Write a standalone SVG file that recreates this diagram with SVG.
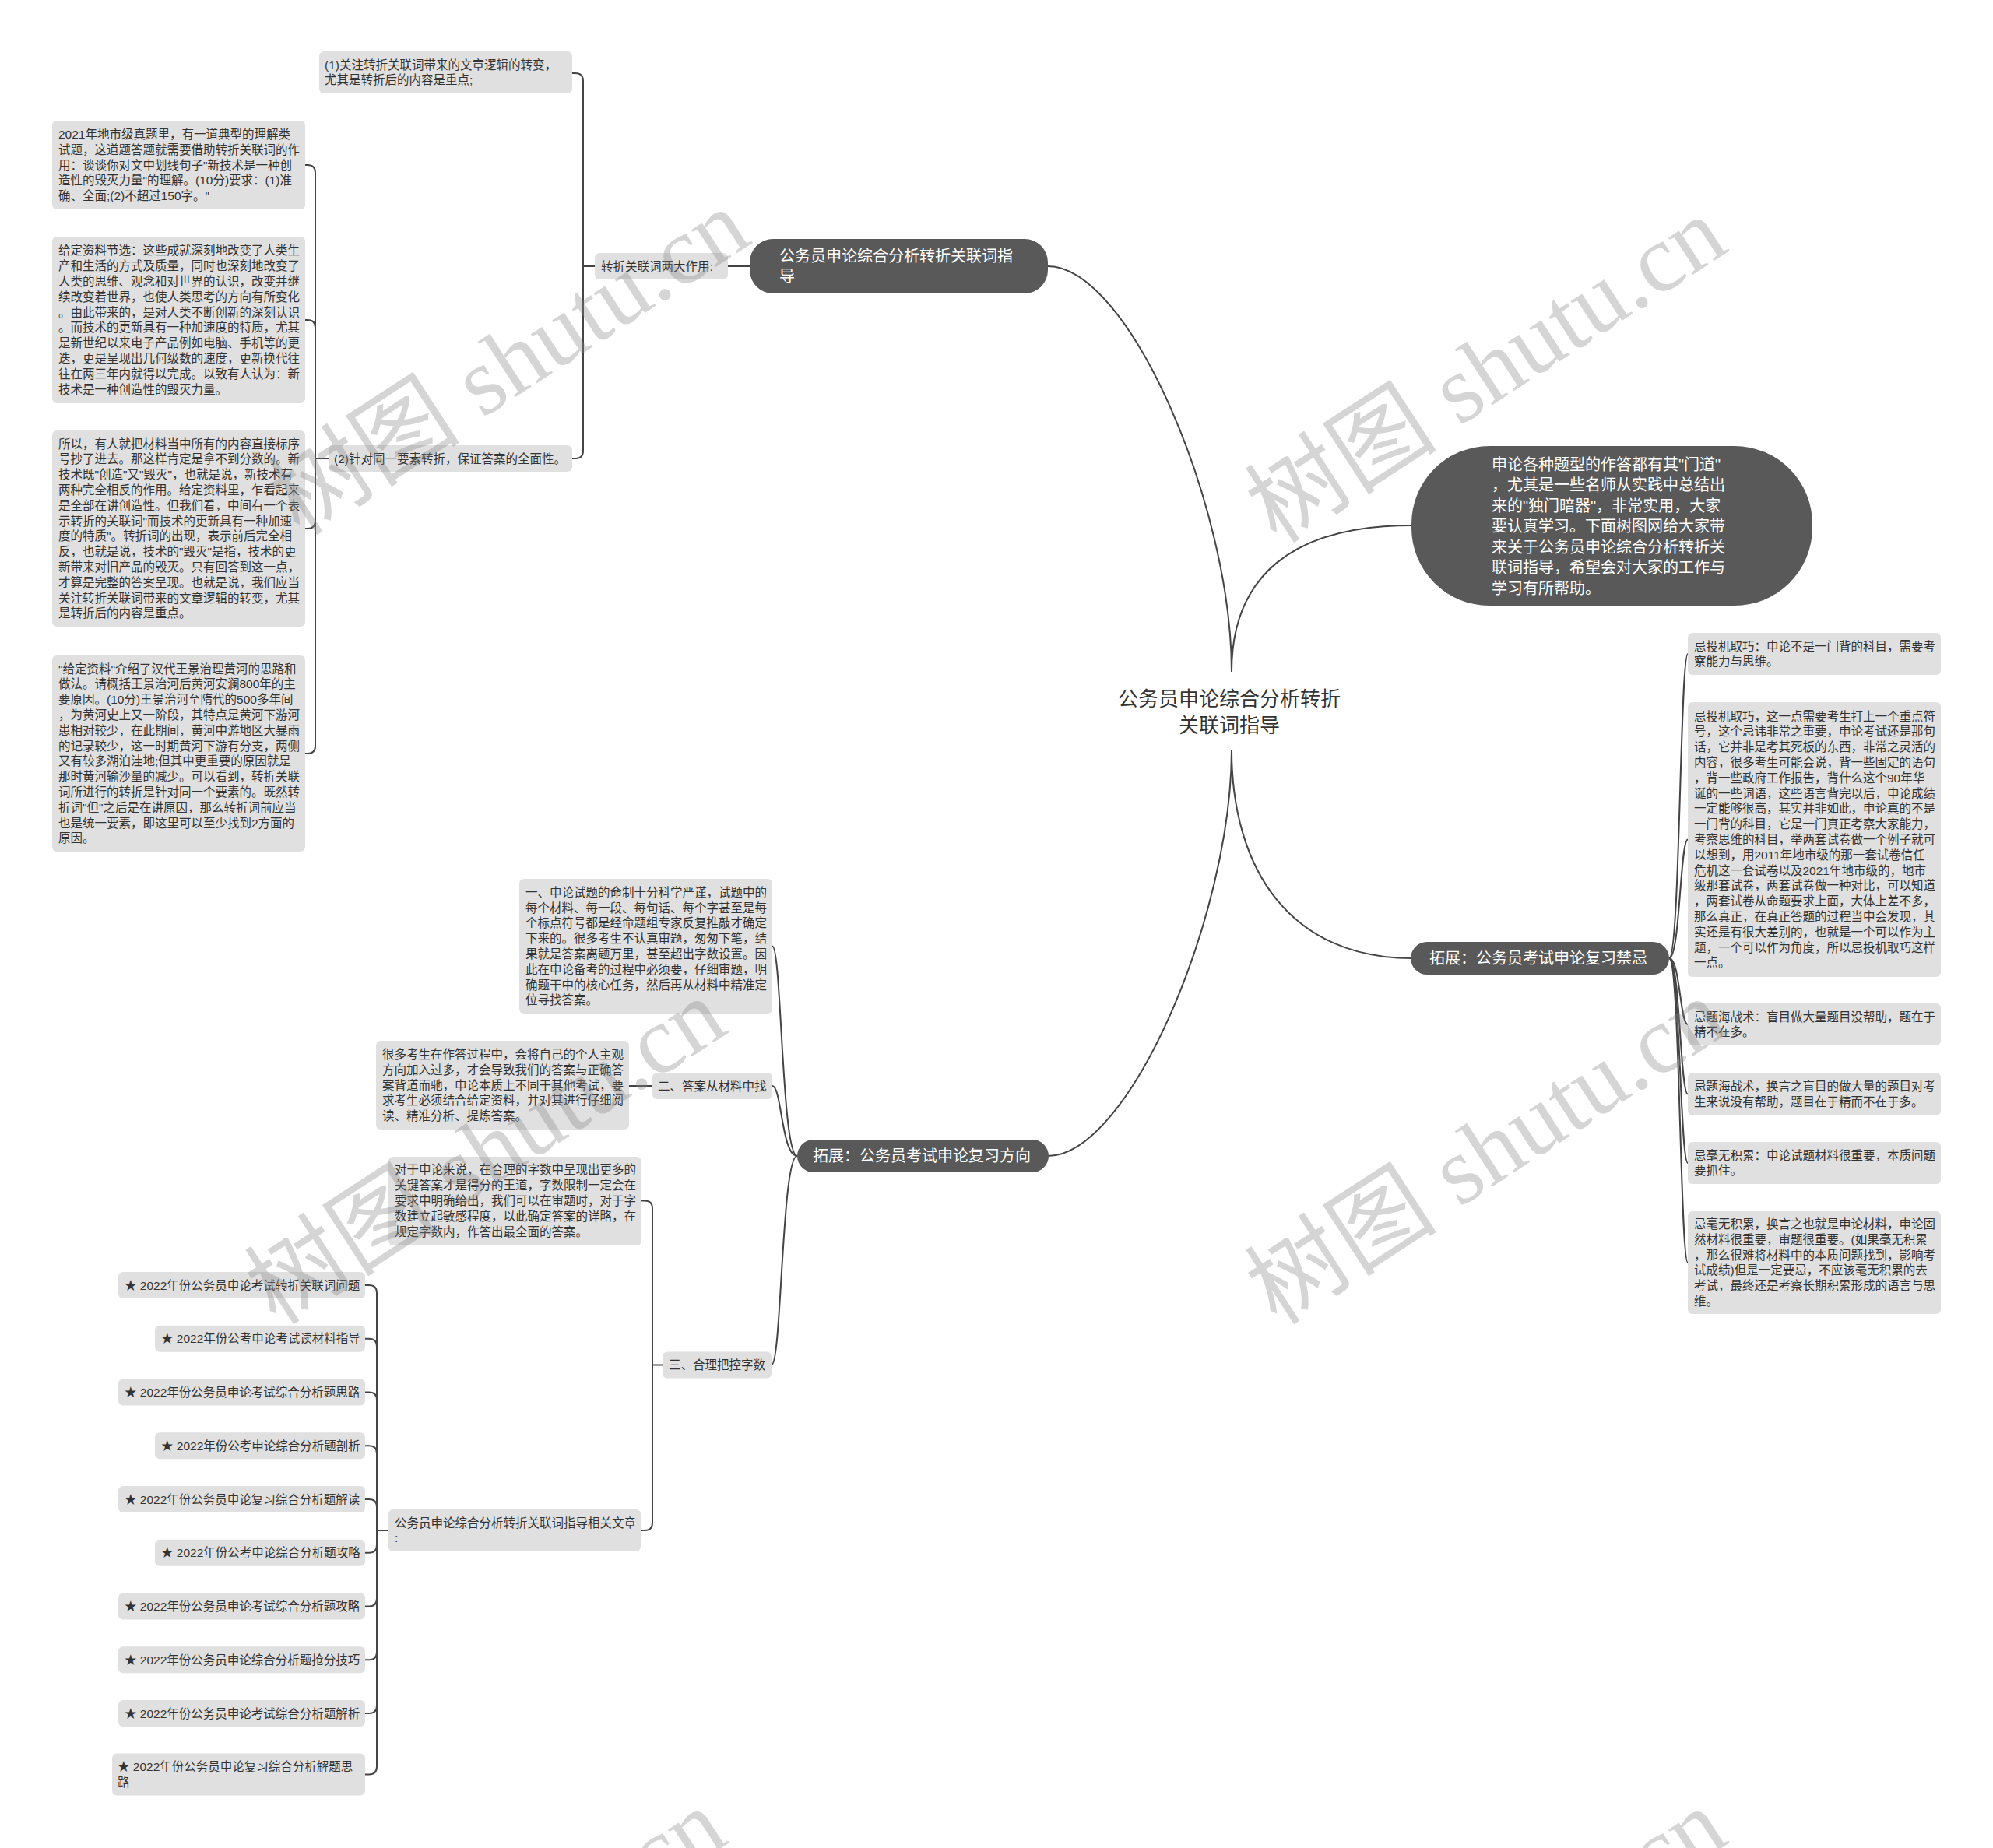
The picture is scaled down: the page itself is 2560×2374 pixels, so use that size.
<svg xmlns="http://www.w3.org/2000/svg" width="2560" height="2374" viewBox="0 0 2560 2374">
<style>
.bg{fill:#ffffff}
.leaf{fill:#e0e0e0}
.main{fill:#595959}
.lt{font-family:"Liberation Sans","Noto Sans CJK SC",sans-serif;font-size:15.5px;fill:#333333}
.mt{font-family:"Liberation Sans","Noto Sans CJK SC",sans-serif;font-size:20px;fill:#ffffff}
.ct{font-family:"Liberation Sans","Noto Sans CJK SC",sans-serif;font-size:26px;fill:#333333;text-anchor:middle}
.conn path{fill:none;stroke:#444444;stroke-width:2}
.wm{font-family:"Liberation Serif","Noto Sans CJK SC",serif;font-size:124px;fill:#888888;fill-opacity:0.35}
</style>
<rect class="bg" x="0" y="0" width="2560" height="2374"/>
<g id="connectors" class="conn">
<path d="M1346 342 C1450 342 1582 650 1582 863"/>
<path d="M1346 1485 C1450 1485 1582 1176 1582 963"/>
<path d="M1582 863 C1582 740 1660 675 1813 675"/>
<path d="M1582 963 C1582 1120 1660 1231 1813 1231"/>
<path d="M963 342 H935"/>
<path d="M764 342 H749 M749 342 V104 Q749 94 739 94 H735 M749 342 V579 Q749 589 739 589 H735"/>
<path d="M422 589 H405 M405 589 V222 Q405 212 395 212 H392 M405 589 V421 Q405 411 395 411 H392 M405 589 V669 Q405 679 395 679 H392 M405 589 V958 Q405 968 395 968 H392"/>
<path d="M1024 1485 C1004 1485 1004 1215.5 992 1215.5"/>
<path d="M1024 1485 C1004 1485 1004 1395 992 1395"/>
<path d="M1024 1485 C1004 1485 1004 1753.5 991 1753.5"/>
<path d="M808 1395 H838"/>
<path d="M851 1753.5 H838 M838 1753.5 V1552.5 Q838 1542.5 828 1542.5 H824 M838 1753.5 V1956 Q838 1966 828 1966 H823"/>
<path d="M499 1966 H484 M484 1966 V1661 Q484 1651 474 1651 H469 M484 1966 V1729.75 Q484 1719.75 474 1719.75 H469 M484 1966 V1798.5 Q484 1788.5 474 1788.5 H469 M484 1966 V1867.25 Q484 1857.25 474 1857.25 H469 M484 1966 V1936 Q484 1926 474 1926 H469 M484 1966 V1984.75 Q484 1994.75 474 1994.75 H469 M484 1966 V2053.5 Q484 2063.5 474 2063.5 H469 M484 1966 V2122.25 Q484 2132.25 474 2132.25 H469 M484 1966 V2191 Q484 2201 474 2201 H469 M484 1966 V2269.5 Q484 2279.5 474 2279.5 H469"/>
<path d="M2144 1231 C2158 1231 2158 840 2168 840"/>
<path d="M2144 1231 C2158 1231 2158 1078.5 2168 1078.5"/>
<path d="M2144 1231 C2158 1231 2158 1316 2168 1316"/>
<path d="M2144 1231 C2158 1231 2158 1405.5 2168 1405.5"/>
<path d="M2144 1231 C2158 1231 2158 1494 2168 1494"/>
<path d="M2144 1231 C2158 1231 2158 1622 2168 1622"/>
</g>
<g id="center">
<text class="ct" x="1579" y="907">公务员申论综合分析转折</text>
<text class="ct" x="1579" y="941">关联词指导</text>
</g>
<g id="main1">
<rect class="main" x="963" y="307" width="383" height="70" rx="30"/>
<text class="mt" x="1001" y="336">公务员申论综合分析转折关联词指<tspan x="1001" dy="26">导</tspan></text>
</g>
<g id="intro">
<rect class="main" x="1813" y="573" width="515" height="205" rx="100"/>
<text class="mt" x="1916" y="603.5">申论各种题型的作答都有其"门道"<tspan x="1916" dy="26.5">，尤其是一些名师从实践中总结出</tspan><tspan x="1916" dy="26.5">来的"独门暗器"，非常实用，大家</tspan><tspan x="1916" dy="26.5">要认真学习。下面树图网给大家带</tspan><tspan x="1916" dy="26.5">来关于公务员申论综合分析转折关</tspan><tspan x="1916" dy="26.5">联词指导，希望会对大家的工作与</tspan><tspan x="1916" dy="26.5">学习有所帮助。</tspan></text>
</g>
<g id="main2">
<rect class="main" x="1024" y="1464" width="323" height="42" rx="21"/>
<text class="mt" x="1044" y="1492">拓展：公务员考试申论复习方向</text>
</g>
<g id="main3">
<rect class="main" x="1812" y="1210" width="332" height="42" rx="21"/>
<text class="mt" x="1836" y="1238">拓展：公务员考试申论复习禁忌</text>
</g>
<g id="b-node">
<rect class="leaf" x="764" y="325" width="171" height="34" rx="6"/>
<text class="lt" x="772" y="347.5">转折关联词两大作用:</text>
</g>
<g id="a1">
<rect class="leaf" x="410" y="66" width="325" height="54" rx="6"/>
<text class="lt" x="417" y="88.6">(1)关注转折关联词带来的文章逻辑的转变，<tspan x="417" dy="19.8">尤其是转折后的内容是重点;</tspan></text>
</g>
<g id="a2">
<rect class="leaf" x="422" y="572" width="313" height="34" rx="6"/>
<text class="lt" x="429" y="594.5">(2)针对同一要素转折，保证答案的全面性。</text>
</g>
<g id="box1">
<rect class="leaf" x="67" y="155" width="325" height="114" rx="6"/>
<text class="lt" x="75" y="177.9">2021年地市级真题里，有一道典型的理解类<tspan x="75" dy="19.8">试题，这道题答题就需要借助转折关联词的作</tspan><tspan x="75" dy="19.8">用：谈谈你对文中划线句子"新技术是一种创</tspan><tspan x="75" dy="19.8">造性的毁灭力量"的理解。(10分)要求：(1)准</tspan><tspan x="75" dy="19.8">确、全面;(2)不超过150字。"</tspan></text>
</g>
<g id="box2">
<rect class="leaf" x="67" y="304" width="325" height="214" rx="6"/>
<text class="lt" x="75" y="327.4">给定资料节选：这些成就深刻地改变了人类生<tspan x="75" dy="19.8">产和生活的方式及质量，同时也深刻地改变了</tspan><tspan x="75" dy="19.8">人类的思维、观念和对世界的认识，改变并继</tspan><tspan x="75" dy="19.8">续改变着世界，也使人类思考的方向有所变化</tspan><tspan x="75" dy="19.8">。由此带来的，是对人类不断创新的深刻认识</tspan><tspan x="75" dy="19.8">。而技术的更新具有一种加速度的特质，尤其</tspan><tspan x="75" dy="19.8">是新世纪以来电子产品例如电脑、手机等的更</tspan><tspan x="75" dy="19.8">迭，更是呈现出几何级数的速度，更新换代往</tspan><tspan x="75" dy="19.8">往在两三年内就得以完成。以致有人认为：新</tspan><tspan x="75" dy="19.8">技术是一种创造性的毁灭力量。</tspan></text>
</g>
<g id="box3">
<rect class="leaf" x="67" y="553" width="325" height="252" rx="6"/>
<text class="lt" x="75" y="575.6">所以，有人就把材料当中所有的内容直接标序<tspan x="75" dy="19.8">号抄了进去。那这样肯定是拿不到分数的。新</tspan><tspan x="75" dy="19.8">技术既"创造"又"毁灭"，也就是说，新技术有</tspan><tspan x="75" dy="19.8">两种完全相反的作用。给定资料里，乍看起来</tspan><tspan x="75" dy="19.8">是全部在讲创造性。但我们看，中间有一个表</tspan><tspan x="75" dy="19.8">示转折的关联词"而技术的更新具有一种加速</tspan><tspan x="75" dy="19.8">度的特质"。转折词的出现，表示前后完全相</tspan><tspan x="75" dy="19.8">反，也就是说，技术的"毁灭"是指，技术的更</tspan><tspan x="75" dy="19.8">新带来对旧产品的毁灭。只有回答到这一点，</tspan><tspan x="75" dy="19.8">才算是完整的答案呈现。也就是说，我们应当</tspan><tspan x="75" dy="19.8">关注转折关联词带来的文章逻辑的转变，尤其</tspan><tspan x="75" dy="19.8">是转折后的内容是重点。</tspan></text>
</g>
<g id="box4">
<rect class="leaf" x="67" y="842" width="325" height="252" rx="6"/>
<text class="lt" x="75" y="864.6">"给定资料"介绍了汉代王景治理黄河的思路和<tspan x="75" dy="19.8">做法。请概括王景治河后黄河安澜800年的主</tspan><tspan x="75" dy="19.8">要原因。(10分)王景治河至隋代的500多年间</tspan><tspan x="75" dy="19.8">，为黄河史上又一阶段，其特点是黄河下游河</tspan><tspan x="75" dy="19.8">患相对较少，在此期间，黄河中游地区大暴雨</tspan><tspan x="75" dy="19.8">的记录较少，这一时期黄河下游有分支，两侧</tspan><tspan x="75" dy="19.8">又有较多湖泊洼地;但其中更重要的原因就是</tspan><tspan x="75" dy="19.8">那时黄河输沙量的减少。可以看到，转折关联</tspan><tspan x="75" dy="19.8">词所进行的转折是针对同一个要素的。既然转</tspan><tspan x="75" dy="19.8">折词"但"之后是在讲原因，那么转折词前应当</tspan><tspan x="75" dy="19.8">也是统一要素，即这里可以至少找到2方面的</tspan><tspan x="75" dy="19.8">原因。</tspan></text>
</g>
<g id="c1">
<rect class="leaf" x="667" y="1129" width="325" height="173" rx="6"/>
<text class="lt" x="675" y="1151.7">一、申论试题的命制十分科学严谨，试题中的<tspan x="675" dy="19.8">每个材料、每一段、每句话、每个字甚至是每</tspan><tspan x="675" dy="19.8">个标点符号都是经命题组专家反复推敲才确定</tspan><tspan x="675" dy="19.8">下来的。很多考生不认真审题，匆匆下笔，结</tspan><tspan x="675" dy="19.8">果就是答案离题万里，甚至超出字数设置。因</tspan><tspan x="675" dy="19.8">此在申论备考的过程中必须要，仔细审题，明</tspan><tspan x="675" dy="19.8">确题干中的核心任务，然后再从材料中精准定</tspan><tspan x="675" dy="19.8">位寻找答案。</tspan></text>
</g>
<g id="c2">
<rect class="leaf" x="838" y="1378" width="154" height="34" rx="6"/>
<text class="lt" x="845" y="1400.5">二、答案从材料中找</text>
</g>
<g id="c2-detail">
<rect class="leaf" x="483" y="1337" width="325" height="114" rx="6"/>
<text class="lt" x="491" y="1359.9">很多考生在作答过程中，会将自己的个人主观<tspan x="491" dy="19.8">方向加入过多，才会导致我们的答案与正确答</tspan><tspan x="491" dy="19.8">案背道而驰，申论本质上不同于其他考试，要</tspan><tspan x="491" dy="19.8">求考生必须结合给定资料，并对其进行仔细阅</tspan><tspan x="491" dy="19.8">读、精准分析、提炼答案。</tspan></text>
</g>
<g id="c3">
<rect class="leaf" x="851" y="1736.5" width="140" height="34" rx="6"/>
<text class="lt" x="859" y="1759">三、合理把控字数</text>
</g>
<g id="d1">
<rect class="leaf" x="499" y="1486" width="325" height="114" rx="6"/>
<text class="lt" x="507" y="1508.4">对于申论来说，在合理的字数中呈现出更多的<tspan x="507" dy="19.8">关键答案才是得分的王道，字数限制一定会在</tspan><tspan x="507" dy="19.8">要求中明确给出，我们可以在审题时，对于字</tspan><tspan x="507" dy="19.8">数建立起敏感程度，以此确定答案的详略，在</tspan><tspan x="507" dy="19.8">规定字数内，作答出最全面的答案。</tspan></text>
</g>
<g id="d2">
<rect class="leaf" x="499" y="1939" width="324" height="54" rx="6"/>
<text class="lt" x="507" y="1961.6">公务员申论综合分析转折关联词指导相关文章<tspan x="507" dy="19.8">:</tspan></text>
</g>
<g id="item1"><rect class="leaf" x="152" y="1634" width="317" height="34" rx="6"/><text class="lt" x="160" y="1656.5">★ 2022年份公务员申论考试转折关联词问题</text></g>
<g id="item2"><rect class="leaf" x="199" y="1702.75" width="270" height="34" rx="6"/><text class="lt" x="207" y="1725.25">★ 2022年份公考申论考试读材料指导</text></g>
<g id="item3"><rect class="leaf" x="152" y="1771.5" width="317" height="34" rx="6"/><text class="lt" x="160" y="1794">★ 2022年份公务员申论考试综合分析题思路</text></g>
<g id="item4"><rect class="leaf" x="199" y="1840.25" width="270" height="34" rx="6"/><text class="lt" x="207" y="1862.75">★ 2022年份公考申论综合分析题剖析</text></g>
<g id="item5"><rect class="leaf" x="152" y="1909" width="317" height="34" rx="6"/><text class="lt" x="160" y="1931.5">★ 2022年份公务员申论复习综合分析题解读</text></g>
<g id="item6"><rect class="leaf" x="199" y="1977.75" width="270" height="34" rx="6"/><text class="lt" x="207" y="2000.25">★ 2022年份公考申论综合分析题攻略</text></g>
<g id="item7"><rect class="leaf" x="152" y="2046.5" width="317" height="34" rx="6"/><text class="lt" x="160" y="2069">★ 2022年份公务员申论考试综合分析题攻略</text></g>
<g id="item8"><rect class="leaf" x="152" y="2115.25" width="317" height="34" rx="6"/><text class="lt" x="160" y="2137.75">★ 2022年份公务员申论综合分析题抢分技巧</text></g>
<g id="item9"><rect class="leaf" x="152" y="2184" width="317" height="34" rx="6"/><text class="lt" x="160" y="2206.5">★ 2022年份公务员申论考试综合分析题解析</text></g>
<g id="item10"><rect class="leaf" x="144" y="2252.5" width="325" height="54" rx="6"/><text class="lt" x="151" y="2275.1">★ 2022年份公务员申论复习综合分析解题思<tspan x="151" dy="19.8">路</tspan></text></g>
<g id="e1">
<rect class="leaf" x="2168" y="813" width="325" height="54" rx="6"/>
<text class="lt" x="2176" y="835.6">忌投机取巧：申论不是一门背的科目，需要考<tspan x="2176" dy="19.8">察能力与思维。</tspan></text>
</g>
<g id="e2">
<rect class="leaf" x="2168" y="902" width="325" height="353" rx="6"/>
<text class="lt" x="2176" y="925.6">忌投机取巧，这一点需要考生打上一个重点符<tspan x="2176" dy="19.8">号，这个忌讳非常之重要，申论考试还是那句</tspan><tspan x="2176" dy="19.8">话，它并非是考其死板的东西，非常之灵活的</tspan><tspan x="2176" dy="19.8">内容，很多考生可能会说，背一些固定的语句</tspan><tspan x="2176" dy="19.8">，背一些政府工作报告，背什么这个90年华</tspan><tspan x="2176" dy="19.8">诞的一些词语，这些语言背完以后，申论成绩</tspan><tspan x="2176" dy="19.8">一定能够很高，其实并非如此，申论真的不是</tspan><tspan x="2176" dy="19.8">一门背的科目，它是一门真正考察大家能力，</tspan><tspan x="2176" dy="19.8">考察思维的科目，举两套试卷做一个例子就可</tspan><tspan x="2176" dy="19.8">以想到，用2011年地市级的那一套试卷信任</tspan><tspan x="2176" dy="19.8">危机这一套试卷以及2021年地市级的，地市</tspan><tspan x="2176" dy="19.8">级那套试卷，两套试卷做一种对比，可以知道</tspan><tspan x="2176" dy="19.8">，两套试卷从命题要求上面，大体上差不多，</tspan><tspan x="2176" dy="19.8">那么真正，在真正答题的过程当中会发现，其</tspan><tspan x="2176" dy="19.8">实还是有很大差别的，也就是一个可以作为主</tspan><tspan x="2176" dy="19.8">题，一个可以作为角度，所以忌投机取巧这样</tspan><tspan x="2176" dy="19.8">一点。</tspan></text>
</g>
<g id="e3">
<rect class="leaf" x="2168" y="1289" width="325" height="54" rx="6"/>
<text class="lt" x="2176" y="1311.6">忌题海战术：盲目做大量题目没帮助，题在于<tspan x="2176" dy="19.8">精不在多。</tspan></text>
</g>
<g id="e4">
<rect class="leaf" x="2168" y="1378" width="325" height="55" rx="6"/>
<text class="lt" x="2176" y="1401.1">忌题海战术，换言之盲目的做大量的题目对考<tspan x="2176" dy="19.8">生来说没有帮助，题目在于精而不在于多。</tspan></text>
</g>
<g id="e5">
<rect class="leaf" x="2168" y="1467" width="325" height="54" rx="6"/>
<text class="lt" x="2176" y="1489.6">忌毫无积累：申论试题材料很重要，本质问题<tspan x="2176" dy="19.8">要抓住。</tspan></text>
</g>
<g id="e6">
<rect class="leaf" x="2168" y="1556" width="325" height="132" rx="6"/>
<text class="lt" x="2176" y="1578">忌毫无积累，换言之也就是申论材料，申论固<tspan x="2176" dy="19.8">然材料很重要，审题很重要。(如果毫无积累</tspan><tspan x="2176" dy="19.8">，那么很难将材料中的本质问题找到，影响考</tspan><tspan x="2176" dy="19.8">试成绩)但是一定要忌，不应该毫无积累的去</tspan><tspan x="2176" dy="19.8">考试，最终还是考察长期积累形成的语言与思</tspan><tspan x="2176" dy="19.8">维。</tspan></text>
</g>
<g id="watermark">
<text class="wm" transform="translate(385 690) rotate(-33)">树图 shutu.cn</text>
<text class="wm" transform="translate(1640 700) rotate(-33)">树图 shutu.cn</text>
<text class="wm" transform="translate(355 1704) rotate(-33)">树图 shutu.cn</text>
<text class="wm" transform="translate(1640 1704) rotate(-33)">树图 shutu.cn</text>
<text class="wm" transform="translate(355 2745) rotate(-33)">树图 shutu.cn</text>
<text class="wm" transform="translate(1640 2745) rotate(-33)">树图 shutu.cn</text>
</g>
</svg>
